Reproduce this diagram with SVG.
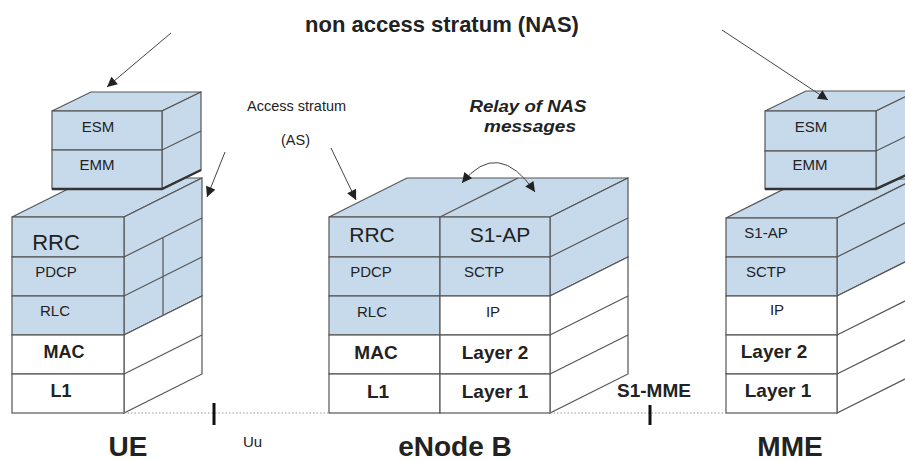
<svg xmlns="http://www.w3.org/2000/svg" width="905" height="461" viewBox="0 0 905 461">
<defs>
<marker id="ah" viewBox="0 0 10 10" refX="10" refY="5" markerWidth="12" markerHeight="10" markerUnits="userSpaceOnUse" orient="auto-start-reverse"><path d="M0,0 L10,5 L0,10 z" fill="#222"/></marker>
</defs>
<style>
.b{fill:#c7daeb;stroke:#555;stroke-width:1.2}
.w{fill:#fff;stroke:#555;stroke-width:1.2}
.ln{fill:none;stroke:#555;stroke-width:1.2}
.sh{fill:none;stroke:#333;stroke-width:2.5}
text{font-family:"Liberation Sans",Arial,Helvetica,sans-serif;fill:#222}
.t{font-size:15px;text-anchor:middle}
.r{font-size:21px;text-anchor:middle}
.bd{font-size:19px;font-weight:bold;text-anchor:middle}
.cap{font-size:28px;font-weight:bold;text-anchor:middle}
.arr{fill:none;stroke:#444;stroke-width:1}
.dot{stroke:#999;stroke-width:1.2;stroke-dasharray:1.5 2}
</style>
<rect width="905" height="461" fill="#fff"/>

<g id="ue-lower">
<polygon class="b" points="12,217 90,178 202,178 124,217"/>
<polygon class="b" points="124,217 202,178 202,296 124,335"/>
<polygon class="w" points="124,335 202,296 202,374 124,413"/>
<line class="ln" x1="124" y1="257" x2="202" y2="218"/>
<line class="ln" x1="124" y1="296" x2="202" y2="257"/>
<line class="ln" x1="124" y1="374" x2="202" y2="335"/>
<line class="ln" x1="163" y1="238" x2="163" y2="315"/>
<rect class="b" x="12" y="217" width="112" height="40"/>
<rect class="b" x="12" y="257" width="112" height="39"/>
<rect class="b" x="12" y="296" width="112" height="39"/>
<rect class="w" x="12" y="335" width="112" height="39"/>
<rect class="w" x="12" y="374" width="112" height="39"/>
<text class="r" x="56" y="250" style="font-size:22px">RRC</text>
<text class="t" x="56" y="277">PDCP</text>
<text class="t" x="55" y="316">RLC</text>
<text class="bd" x="64" y="358" style="font-size:18px">MAC</text>
<text class="bd" x="61" y="397" style="font-size:18px">L1</text>
</g>

<g id="ue-nas">
<polygon class="b" points="52,111 91,92 201,92 162,111"/>
<polygon class="b" points="162,111 201,92 201,170 162,189"/>
<line class="ln" x1="162" y1="150" x2="201" y2="131"/>
<rect class="b" x="52" y="111" width="110" height="39"/>
<rect class="b" x="52" y="150" width="110" height="39"/>
<polyline class="sh" points="52,189 162,189 201,170"/>
<text class="t" x="98" y="132">ESM</text>
<text class="t" x="97" y="170">EMM</text>
</g>

<g id="enodeb">
<polygon class="b" points="329,217 407,178 628,178 550,217"/>
<line class="ln" x1="440" y1="217" x2="518" y2="178"/>
<polygon class="b" points="550,217 628,178 628,257 550,296"/>
<polygon class="w" points="550,296 628,257 628,374 550,413"/>
<line class="ln" x1="550" y1="257" x2="628" y2="218"/>
<line class="ln" x1="550" y1="335" x2="628" y2="296"/>
<line class="ln" x1="550" y1="374" x2="628" y2="335"/>
<rect class="b" x="329" y="217" width="111" height="40"/>
<rect class="b" x="329" y="257" width="111" height="39"/>
<rect class="b" x="329" y="296" width="111" height="39"/>
<rect class="w" x="329" y="335" width="111" height="39"/>
<rect class="w" x="329" y="374" width="111" height="39"/>
<rect class="b" x="440" y="217" width="110" height="40"/>
<rect class="b" x="440" y="257" width="110" height="39"/>
<rect class="w" x="440" y="296" width="110" height="39"/>
<rect class="w" x="440" y="335" width="110" height="39"/>
<rect class="w" x="440" y="374" width="110" height="39"/>
<text class="r" x="372" y="242">RRC</text>
<text class="r" x="500" y="242">S1-AP</text>
<text class="t" x="371" y="277">PDCP</text>
<text class="t" x="484" y="277">SCTP</text>
<text class="t" x="372" y="317">RLC</text>
<text class="t" x="493" y="317">IP</text>
<text class="bd" x="376" y="359">MAC</text>
<text class="bd" x="495" y="359">Layer 2</text>
<text class="bd" x="378" y="398">L1</text>
<text class="bd" x="495" y="398">Layer 1</text>
</g>

<g id="mme-lower">
<polygon class="b" points="726,218 804,179 915,179 837,218"/>
<polygon class="b" points="837,218 915,179 915,257 837,296"/>
<polygon class="w" points="837,296 915,257 915,374 837,413"/>
<line class="ln" x1="837" y1="257" x2="915" y2="218"/>
<line class="ln" x1="837" y1="335" x2="915" y2="296"/>
<line class="ln" x1="837" y1="374" x2="915" y2="335"/>
<rect class="b" x="726" y="218" width="111" height="39"/>
<rect class="b" x="726" y="257" width="111" height="39"/>
<rect class="w" x="726" y="296" width="111" height="39"/>
<rect class="w" x="726" y="335" width="111" height="39"/>
<rect class="w" x="726" y="374" width="111" height="39"/>
<text class="t" x="766" y="238">S1-AP</text>
<text class="t" x="766" y="277">SCTP</text>
<text class="t" x="777" y="315">IP</text>
<text class="bd" x="774" y="358">Layer 2</text>
<text class="bd" x="778" y="397">Layer 1</text>
</g>

<g id="mme-nas">
<polygon class="b" points="765,111 806,91 917,91 876,111"/>
<polygon class="b" points="876,111 917,91 917,170 876,189"/>
<line class="ln" x1="876" y1="151" x2="917" y2="131"/>
<rect class="b" x="765" y="111" width="111" height="40"/>
<rect class="b" x="765" y="151" width="111" height="38"/>
<polyline class="sh" points="765,189 876,189 917,170"/>
<text class="t" x="811" y="132">ESM</text>
<text class="t" x="810" y="170">EMM</text>
</g>

<g id="connectors">
<line class="dot" x1="124" y1="413" x2="329" y2="413"/>
<line class="dot" x1="550" y1="413" x2="726" y2="413"/>
<line x1="214" y1="403" x2="214" y2="425" stroke="#111" stroke-width="3"/>
<line x1="650" y1="405" x2="650" y2="425" stroke="#111" stroke-width="3"/>
<line class="arr" x1="171" y1="33" x2="107" y2="87" marker-end="url(#ah)"/>
<line class="arr" x1="722" y1="30" x2="828" y2="100" marker-end="url(#ah)"/>
<line class="arr" x1="225" y1="152" x2="207" y2="197" marker-end="url(#ah)"/>
<line class="arr" x1="331" y1="148" x2="356" y2="200" marker-end="url(#ah)"/>
<path class="arr" d="M462,183 Q498,138 535,192" marker-start="url(#ah)" marker-end="url(#ah)"/>
</g>

<g id="labels">
<text x="442" y="32" style="font-size:22px;font-weight:bold;text-anchor:middle">non access stratum (NAS)</text>
<text x="247" y="111" style="font-size:14.5px">Access stratum</text>
<text x="281" y="145" style="font-size:14.5px">(AS)</text>
<text x="528" y="112" textLength="117" lengthAdjust="spacingAndGlyphs" style="font-size:16px;font-weight:bold;font-style:italic;text-anchor:middle">Relay of NAS</text>
<text x="530" y="132" textLength="92" lengthAdjust="spacingAndGlyphs" style="font-size:16px;font-weight:bold;font-style:italic;text-anchor:middle">messages</text>
<text class="cap" x="128" y="456">UE</text>
<text class="cap" x="455" y="456">eNode B</text>
<text class="cap" x="790" y="456">MME</text>
<text x="243" y="447" style="font-size:15px">Uu</text>
<text x="654" y="397" style="font-size:19px;font-weight:bold;text-anchor:middle">S1-MME</text>
</g>
</svg>
